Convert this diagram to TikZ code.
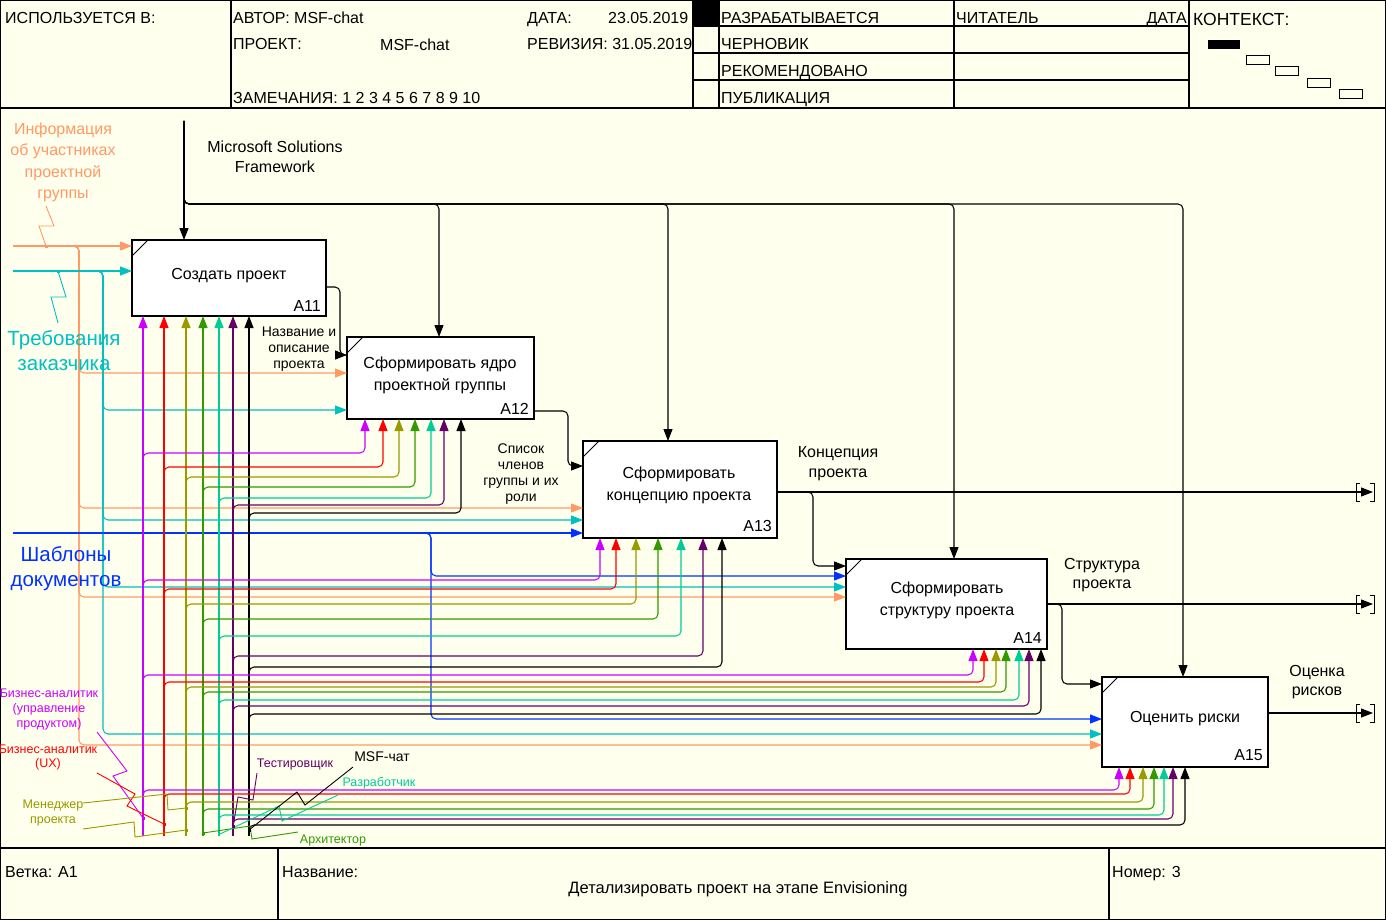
\documentclass[tikz,border=0pt]{standalone}
\usepackage{fontspec}
\setmainfont{Liberation Sans}
\usetikzlibrary{arrows.meta}
\definecolor{bgc}{RGB}{255,255,238}
\definecolor{corg}{RGB}{255,153,102}
\definecolor{ccy}{RGB}{0,192,192}
\definecolor{cbl}{RGB}{0,51,255}
\definecolor{cmg}{RGB}{204,0,255}
\definecolor{crd}{RGB}{255,0,0}
\definecolor{col}{RGB}{153,153,0}
\definecolor{cgr}{RGB}{51,153,0}
\definecolor{ctl}{RGB}{0,204,153}
\definecolor{cpu}{RGB}{102,0,102}
\definecolor{cbk}{RGB}{0,0,0}
\newcommand\myfs[2]{\fontsize{#1}{#2}\selectfont}
\begin{document}
\begin{tikzpicture}[x=1pt,y=-1pt,
  ln/.style={line width=1.05pt, rounded corners=5pt},
  arr/.style={-{Triangle[length=12pt,width=9pt]}},
  procbox/.style={draw, fill=white, line width=1.2pt, inner sep=0pt, outer sep=0pt},
  sq/.style={line width=0.9pt},
  hd/.style={anchor=base west, inner sep=0pt, font=\myfs{16}{18}},
  bt/.style={anchor=base, inner sep=0pt, font=\myfs{16}{20}},
  lt/.style={anchor=base, inner sep=0pt, font=\myfs{14}{16}},
  mt/.style={anchor=base, inner sep=0pt, font=\myfs{12.5}{15}},
  frm/.style={line width=1.1pt}
]
\useasboundingbox (0,0) rectangle (1386,920);
\fill[bgc] (0,0) rectangle (1386,920);

% ---------- frame, header, footer ----------
\draw[frm] (0.6,0.6) rectangle (1385.4,919.4);
\draw[frm] (0,108) -- (1386,108);
\draw[frm] (0,848) -- (1386,848);
\draw[frm] (231,0) -- (231,108);
\draw[frm] (693,0) -- (693,108);
\draw[frm] (719,0) -- (719,108);
\draw[frm] (954,0) -- (954,108);
\draw[frm] (1189,0) -- (1189,108);
\draw[frm] (693,26) -- (1189,26);
\draw[frm] (693,53) -- (1189,53);
\draw[frm] (693,80) -- (1189,80);
\fill (693,0) rectangle (719,26);
\draw[frm] (278,848) -- (278,920);
\draw[frm] (1109,848) -- (1109,920);

\node[hd] (h1) at (5,24) {ИСПОЛЬЗУЕТСЯ В:};
\node[hd] (h2) at (233,24) {АВТОР: MSF-chat};
\node[hd] (h3) at (527,24) {ДАТА:};
\node[hd] (h4) at (608,24) {23.05.2019};
\node[hd] (h5) at (233,50) {ПРОЕКТ:};
\node[hd] (h6) at (380,51) {MSF-chat};
\node[hd] (h7) at (527,50) {РЕВИЗИЯ: 31.05.2019};
\node[hd] (h8) at (233,104) {ЗАМЕЧАНИЯ: 1 2 3 4 5 6 7 8 9 10};
\node[hd] (h9) at (721,24) {РАЗРАБАТЫВАЕТСЯ};
\node[hd] (h10) at (721,50) {ЧЕРНОВИК};
\node[hd] (h11) at (721,77) {РЕКОМЕНДОВАНО};
\node[hd] (h12) at (721,104) {ПУБЛИКАЦИЯ};
\node[hd] (h13) at (956,24) {ЧИТАТЕЛЬ};
\node[hd, anchor=base east] (h14) at (1187,24) {ДАТА};
\node[hd, font=\myfs{17.5}{20}] (h15) at (1193,26) {КОНТЕКСТ:};
\fill (1208,40) rectangle (1240,49);
\draw[line width=0.9pt] (1246,55) rectangle (1269,64);
\draw[line width=0.9pt] (1275,66) rectangle (1298,75);
\draw[line width=0.9pt] (1307,78) rectangle (1330,87);
\draw[line width=0.9pt] (1339,89) rectangle (1362,98);

\node[hd] (f1) at (5,877) {Ветка: A1};
\node[hd] (f2) at (282,877) {Название:};
\node[hd, anchor=base, font=\myfs{16.5}{18}] (f3) at (738,893) {Детализировать проект на этапе Envisioning};
\node[hd] (f4) at (1112,877) {Номер: 3};

% ---------- activity boxes ----------
\node[procbox, minimum width=194pt, minimum height=76pt] (a11) at (229,278) {};
\node[procbox, minimum width=187pt, minimum height=82pt] (a12) at (440.5,378) {};
\node[procbox, minimum width=194pt, minimum height=97pt] (a13) at (680,489.5) {};
\node[procbox, minimum width=201pt, minimum height=90pt] (a14) at (946.5,604) {};
\node[procbox, minimum width=166pt, minimum height=90pt] (a15) at (1185,722) {};
\foreach \b in {a11,a12,a13,a14,a15}
  \draw[line width=0.8pt] (\b.north west) ++(0,16) -- ++(16,-16);

\node[bt] (t11) at (229,279) {Создать проект};
\node[bt] (t12a) at (440,368) {Сформировать ядро};
\node[bt] (t12b) at (440,390) {проектной группы};
\node[bt] (t13a) at (679,478) {Сформировать};
\node[bt] (t13b) at (679,500) {концепцию проекта};
\node[bt] (t14a) at (947,593) {Сформировать};
\node[bt] (t14b) at (947,615) {структуру проекта};
\node[bt] (t15) at (1185,722) {Оценить риски};
\node[bt, anchor=base east] (n11) at (321,311) {A11};
\node[bt, anchor=base east] (n12) at (529,414) {A12};
\node[bt, anchor=base east] (n13) at (772,531) {A13};
\node[bt, anchor=base east] (n14) at (1042,643) {A14};
\node[bt, anchor=base east] (n15) at (1263,760) {A15};

% ---------- control: Microsoft Solutions Framework ----------
\coordinate (msf) at (184,121);
\draw[ln,arr] (msf) -- (a11.north -| 184,0);
\foreach \xx/\bb in {439/a12, 668/a13, 954/a14, 1183/a15}
  \draw[ln,arr] (msf) |- (\xx,204) -- (\bb.north -| \xx,0);
\node[bt] (l1a) at (275,153) {Microsoft Solutions};
\node[bt] (l1b) at (275,173) {Framework};

% ---------- inputs ----------
\draw[ln,corg,arr] (13,246) -- (a11.west |- 0,246);
\foreach \yy/\bb in {373/a12, 508/a13, 597/a14, 745/a15}
  \draw[ln,corg,arr] (60,246) -| (79,\yy) -- (\bb.west |- 0,\yy);
\draw[ln,ccy,arr] (13,271) -- (a11.west |- 0,271);
\foreach \yy/\bb in {410/a12, 520/a13, 587/a14, 734/a15}
  \draw[ln,ccy,arr] (85,271) -| (103,\yy) -- (\bb.west |- 0,\yy);
\draw[ln,cbl,arr] (13,533) -- (a13.west |- 0,533);
\foreach \yy/\bb in {576/a14, 719/a15}
  \draw[ln,cbl,arr] (415,533) -| (431,\yy) -- (\bb.west |- 0,\yy);

% ---------- outputs ----------
\coordinate (tun1) at (1373,492);
\coordinate (tun2) at (1373,604);
\coordinate (tun3) at (1373,713);
\draw[ln,arr] (a11.east |- 0,287) -| (340,355) -- (a12.west |- 0,355);
\draw[ln,arr] (a12.east |- 0,411) -| (568,466) -- (a13.west |- 0,466);
\draw[ln,arr] (a13.east |- 0,492) -- (tun1);
\draw[ln,arr] (a13.east |- 0,492) -| (813,566) -- (a14.west |- 0,566);
\draw[ln,arr] (a14.east |- 0,604) -- (tun2);
\draw[ln,arr] (a14.east |- 0,604) -| (1062,684) -- (a15.west |- 0,684);
\draw[ln,arr] (a15.east |- 0,713) -- (tun3);
\foreach \yy in {492,604,713}{
  \draw[line width=1pt] (1360,\yy-9) -- (1356,\yy-9) -- (1356,\yy+9) -- (1360,\yy+9);
  \draw[line width=1pt] (1370,\yy-9) -- (1374,\yy-9) -- (1374,\yy+9) -- (1370,\yy+9);
}
\node[lt] (o1a) at (299,336) {Название и};
\node[lt] (o1b) at (299,352) {описание};
\node[lt] (o1c) at (299,368) {проекта};
\node[lt] (o2a) at (521,453) {Список};
\node[lt] (o2b) at (521,469) {членов};
\node[lt] (o2c) at (521,485) {группы и их};
\node[lt] (o2d) at (521,501) {роли};
\node[bt] (o3a) at (838,457) {Концепция};
\node[bt] (o3b) at (838,477) {проекта};
\node[bt] (o4a) at (1102,569) {Структура};
\node[bt] (o4b) at (1102,588) {проекта};
\node[bt] (o5a) at (1317,676) {Оценка};
\node[bt] (o5b) at (1317,695) {рисков};

% ---------- mechanisms ----------
\foreach \c/\x in {cmg/143, crd/164, col/186, cgr/203, ctl/219, cpu/233, cbk/249}
  \draw[ln,\c,arr] (\x,836) -- (a11.south -| \x,0);
\foreach \c/\x/\y/\ax in {cmg/143/453/365, crd/164/467/383, col/186/477/399, cgr/203/487/415, ctl/219/498/431, cpu/233/505/444, cbk/249/513/461}
  \draw[ln,\c,arr] (\x,{\y+10}) |- (\ax,\y) -- (a12.south -| \ax,0);
\foreach \c/\x/\y/\ax in {cmg/143/580/600, crd/164/589/616, col/186/604/636, cgr/203/619/658, ctl/219/636/681, cpu/233/656/703, cbk/249/667/722}
  \draw[ln,\c,arr] (\x,{\y+10}) |- (\ax,\y) -- (a13.south -| \ax,0);
\foreach \c/\x/\y/\ax in {cmg/143/675/973, crd/164/682/984, col/186/687/996, cgr/203/692/1006, ctl/219/700/1019, cpu/233/706/1029, cbk/249/714/1041}
  \draw[ln,\c,arr] (\x,{\y+10}) |- (\ax,\y) -- (a14.south -| \ax,0);
\foreach \c/\x/\y/\ax in {cmg/143/790/1119, crd/164/794/1130, col/186/802/1143, cgr/203/809/1154, ctl/219/815/1164, cpu/233/819/1173, cbk/249/825/1185}
  \draw[ln,\c,arr] (\x,{\y+10}) |- (\ax,\y) -- (a15.south -| \ax,0);

% ---------- labels of boundary arrows and squiggles ----------
\node[bt, corg, font=\myfs{16}{20}] (i1a) at (63,135) {Информация};
\node[bt, corg, font=\myfs{16}{20}] (i1b) at (63,156) {об участниках};
\node[bt, corg, font=\myfs{16}{20}] (i1c) at (63,178) {проектной};
\node[bt, corg, font=\myfs{16}{20}] (i1d) at (63,199) {группы};
\draw[sq,corg] (46,206) -- (54,226) -- (39,226) -- (46,246);
\fill[corg] (44.5,244.5) rectangle (47.5,247.5);

\node[bt, ccy, font=\myfs{20.5}{24}] (i2a) at (64,345) {Требования};
\node[bt, ccy, font=\myfs{20.5}{24}] (i2b) at (64,370) {заказчика};
\draw[sq,ccy] (58,323) -- (51,297) -- (66,297) -- (58,271);
\fill[ccy] (56.5,269.5) rectangle (59.5,272.5);

\node[bt, cbl, font=\myfs{20.5}{24}] (i3a) at (66,561) {Шаблоны};
\node[bt, cbl, font=\myfs{20.5}{24}] (i3b) at (66,586) {документов};

\node[mt, cmg] (m1a) at (49,697) {Бизнес-аналитик};
\node[mt, cmg] (m1b) at (49,712) {(управление};
\node[mt, cmg] (m1c) at (49,727) {продуктом)};
\draw[sq,cmg] (97,732) -- (127,771) -- (113,776) -- (143,818);
\fill[cmg] (141.5,816.5) rectangle (144.5,819.5);

\node[mt, crd] (m2a) at (48,753) {Бизнес-аналитик};
\node[mt, crd] (m2b) at (48,767) {(UX)};
\draw[sq,crd] (97,773) -- (135,794) -- (127,806) -- (164,824);
\fill[crd] (162.5,822.5) rectangle (165.5,825.5);

\node[mt, col] (m3a) at (53,808) {Менеджер};
\node[mt, col] (m3b) at (53,823) {проекта};
\draw[sq,col] (83,803) -- (167,794) -- (168,810) -- (186,808);
\fill[col] (184.5,806.5) rectangle (187.5,809.5);
\draw[sq,col] (83,829) -- (134,822) -- (135,837) -- (186,830);
\fill[col] (184.5,828.5) rectangle (187.5,831.5);

\node[mt, cgr] (m4) at (333,843) {Архитектор};
\draw[sq,cgr] (298,832) -- (252,839) -- (250,826) -- (203,833);
\fill[cgr] (201.5,831.5) rectangle (204.5,834.5);

\node[mt, ctl] (m5) at (379,786) {Разработчик};
\draw[sq,ctl] (338,795) -- (282,821) -- (279,806) -- (220,834);

\node[mt, cpu] (m6) at (295,767) {Тестировщик};
\draw[sq,cpu] (257,773) -- (253,800) -- (238,797) -- (233,827);
\fill[cpu] (231.5,824.5) rectangle (234.5,827.5);

\node[lt, font=\myfs{14}{16}] (m7) at (382,761) {MSF-чат};
\draw[sq] (353,767) -- (305,805) -- (297,792) -- (249,830);
\fill (247.5,828.5) rectangle (250.5,831.5);
\end{tikzpicture}
\end{document}
